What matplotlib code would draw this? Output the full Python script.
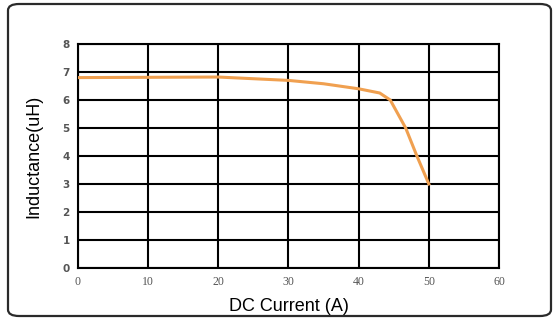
import matplotlib.pyplot as plt
from matplotlib.patches import FancyBboxPatch

# DC bias curve
current = [0, 10, 20, 30, 35, 40, 43, 44.5, 46.7, 48.3, 50]
inductance = [6.8, 6.81, 6.82, 6.7, 6.58, 6.4, 6.25, 6.0, 5.0, 4.0, 3.0]
x_ticks = [0, 10, 20, 30, 40, 50, 60]
y_ticks = [0, 1, 2, 3, 4, 5, 6, 7, 8]

fig = plt.figure(figsize=(5.58, 3.19), dpi=100)
ax = fig.add_axes([78 / 558, 1 - 268 / 319, (499 - 78) / 558, (268 - 44) / 319])

# rounded frame around the whole chart
frame = FancyBboxPatch((8 / 558, 3 / 319), 543 / 558, 312 / 319,
                       boxstyle="round,pad=0,rounding_size=0.02",
                       transform=fig.transFigure, fill=False,
                       edgecolor="#2a2a2a", linewidth=1.6)
fig.patches.append(frame)

ax.plot(current, inductance, color="#F0A050", linewidth=2.2, zorder=3)

ax.set_xlim(0, 60)
ax.set_ylim(0, 8)
ax.set_xticks(x_ticks)
ax.set_yticks(y_ticks)
ax.grid(True, color="black", linewidth=1.5)
ax.set_axisbelow(True)
for s in ax.spines.values():
    s.set_linewidth(1.5)
    s.set_color("black")
ax.tick_params(length=0, pad=6, colors="#555555")
for lab in ax.get_xticklabels():
    lab.set_fontfamily("Liberation Serif")
    lab.set_fontsize(8.5)
for lab in ax.get_yticklabels():
    lab.set_fontfamily("DejaVu Sans")
    lab.set_fontsize(7.5)
    lab.set_fontweight("bold")

ax.set_xlabel("DC Current (A)", fontsize=13, family="Liberation Sans", labelpad=7)
ax.set_ylabel("Inductance(uH)", fontsize=13, family="Liberation Sans", labelpad=14)

fig.savefig("out.png", dpi=100)
